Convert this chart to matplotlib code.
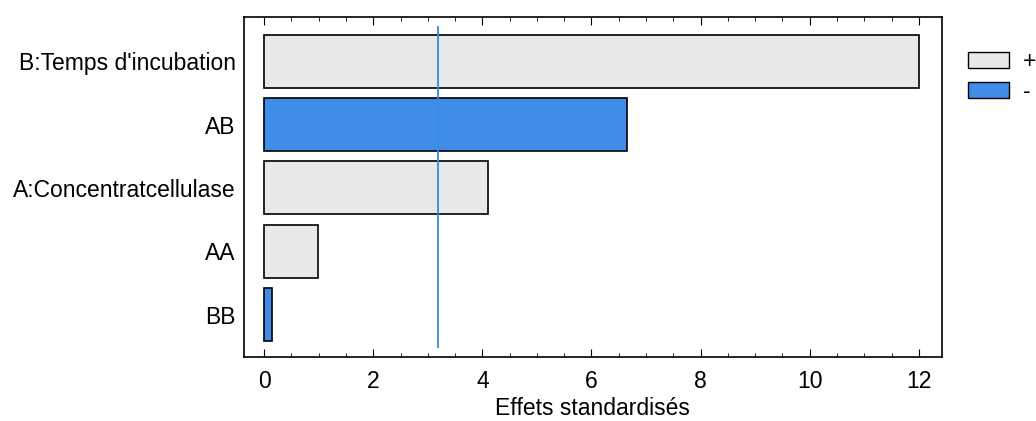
import matplotlib
matplotlib.use("Agg")
import matplotlib.pyplot as plt
from matplotlib.patches import Patch
from matplotlib.ticker import MultipleLocator

plt.rcParams['font.family'] = ['Liberation Sans', 'DejaVu Sans']

factors = ["B:Temps d'incubation", "AB", "A:Concentratcellulase", "AA", "BB"]
effects = [12.0, 6.65, 4.1, 0.98, 0.15]
signs = ["+", "-", "+", "+", "-"]
critical = 3.18

col_pos = "#e7e9e9"
col_neg = "#3f8de6"
FS = 16.5

fig = plt.figure(figsize=(10.36, 4.21), dpi=100)
ax = fig.add_axes([0.2355, 0.152, 0.6735, 0.808])

pos = list(range(len(factors)))
colors = [col_pos if s == "+" else col_neg for s in signs]
ax.barh(pos, effects, height=0.84, color=colors, edgecolor="black", linewidth=1.2)
ax.axvline(critical, ymin=0.03, ymax=0.97, color="#3a8ae0", linewidth=1.3)

ax.set_xlim(-0.37, 12.42)
ax.set_ylim(4.67, -0.70)
ax.set_yticks(pos)
ax.set_yticklabels(factors, fontsize=FS)
ax.tick_params(axis='y', length=0, pad=6)
ax.xaxis.set_major_locator(MultipleLocator(2))
ax.xaxis.set_minor_locator(MultipleLocator(0.5))
ax.tick_params(axis='x', which='major', direction='in', top=True, length=6, labelsize=FS, pad=9)
ax.tick_params(axis='x', which='minor', direction='in', top=True, length=3)
for s in ax.spines.values():
    s.set_linewidth(1.2)
ax.set_xlabel("Effets standardisés", fontsize=FS, labelpad=3)

handles = [Patch(facecolor=col_pos, edgecolor="black", label="+"),
           Patch(facecolor=col_neg, edgecolor="black", label="-")]
ax.legend(handles=handles, loc="upper left", bbox_to_anchor=(1.024, 0.93),
          frameon=False, fontsize=FS, handlelength=1.8, handleheight=0.7,
          handletextpad=0.6, labelspacing=0.3, borderaxespad=0)

fig.savefig("out.png", dpi=100)
